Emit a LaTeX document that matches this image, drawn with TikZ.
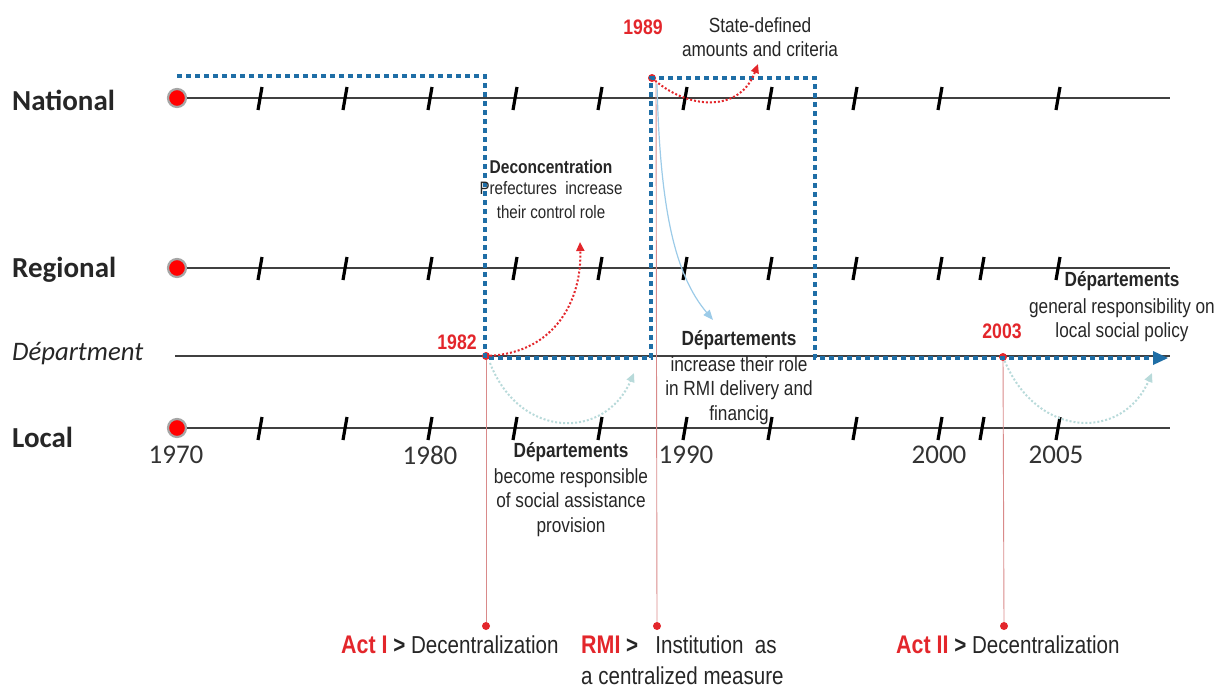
\documentclass[tikz,border=0pt]{standalone}
\usepackage{fontspec}
\setmainfont{Carlito}
\newfontfamily\narrow[FakeStretch=0.84]{Liberation Sans}
\usetikzlibrary{arrows.meta}
\definecolor{dblue}{HTML}{1F6EA6}
\definecolor{lblue}{HTML}{9CCBE8}
\definecolor{pale}{HTML}{B8DADA}
\definecolor{pinkline}{HTML}{D98A8A}
\definecolor{rred}{HTML}{E3262B}
\definecolor{tgray}{HTML}{404040}
\newcommand\redlead[1]{{\fontsize{25.5}{31}\selectfont\bfseries\textcolor{rred}{#1}}}
\begin{document}
\begin{tikzpicture}[x=1pt,y=-1pt,
  rowlab/.style={anchor=west,font=\fontsize{29}{32}\selectfont\bfseries,text=black!85,inner sep=0},
  bigdot/.style={circle,fill=red,draw=gray!70,line width=2.2pt,minimum size=18pt,inner sep=0},
  rdot/.style={circle,fill=rred,inner sep=0,minimum size=8pt},
  tline/.style={draw=tgray,line width=1.3pt},
  tick/.style={line width=3.2pt,black},
  bluedash/.style={draw=dblue,line width=4.5pt,dash pattern=on 5pt off 4pt},
  pinkv/.style={draw=pinkline,line width=0.9pt},
  reddot/.style={draw=rred,line width=2pt,dotted,-{Triangle[length=9pt,width=8pt]}},
  paledot/.style={draw=pale,line width=2pt,dotted,-{Triangle[length=9pt,width=8pt]}},
  year/.style={font=\fontsize{27}{30}\selectfont,text=black!80},
  ann/.style={font=\narrow\fontsize{20.5}{24.5}\selectfont,text=black!85,align=center},
  annb/.style={font=\narrow\fontsize{20.5}{24}\selectfont\bfseries,text=black!85},
  redyr/.style={font=\narrow\fontsize{21}{24}\selectfont\bfseries,text=rred},
  bot/.style={font=\narrow\fontsize{24.5}{31}\selectfont,text=black!85,anchor=base west,inner sep=0}
]
\useasboundingbox (0,0) rectangle (1223,691);

% row labels
\node[rowlab] (nat) at (12,100) {National};
\node[rowlab] (reg) at (12,270) {Regional};
\node[rowlab,font=\fontsize{26.7}{30}\selectfont\itshape] (dep) at (12,354) {Départment};
\node[rowlab] (loc) at (12,437) {Local};

% timeline lines
\coordinate (natE) at (1170,98);
\coordinate (regE) at (1170,268);
\coordinate (depS) at (175,356);
\coordinate (depE) at (1170,356);
\coordinate (locE) at (1170,428);
\node[bigdot] (natD) at (177,98) {};
\node[bigdot] (regD) at (177,268) {};
\node[bigdot] (locD) at (177,428) {};
\draw[tline] (natD) -- (natE);
\draw[tline] (regD) -- (regE);
\draw[tline] (depS) -- (depE);
\draw[tline] (locD) -- (locE);

% ticks
\foreach \x in {260,345,430,515,600,685,770,855,940,1058}
  \draw[tick] (\x-2,110) -- (\x+2,87);
\foreach \x in {260,345,430,515,600,685,770,855,940,982,1058}{
  \draw[tick] (\x-2,280) -- (\x+2,257);
  \draw[tick] (\x-2,440) -- (\x+2,417);
}

% years
\node[year] (y70) at (176,455) {1970};
\node[year] (y80) at (430,455) {1980};
\node[year] (y90) at (686,455) {1990};
\node[year] (y00) at (939,455) {2000};
\node[year] (y05) at (1056,455) {2005};

% pink vertical lines and event dots
\node[rdot] (e82) at (486,356) {};
\node[rdot] (e89) at (652,78) {};
\node[rdot] (e03) at (1003,357) {};
\node[rdot] (b82) at (486,626) {};
\node[rdot] (b89) at (657,626) {};
\node[rdot] (b03) at (1004,626) {};
\draw[pinkv] (e82) -- (b82);
\draw[pinkv] (656,82) -- (b89);
\draw[pinkv] (e03) -- (b03);

% blue dotted path
\coordinate (p0) at (177,76);
\coordinate (p1) at (485,76);
\coordinate (p2) at (485,358);
\coordinate (p3) at (651,358);
\coordinate (p4) at (651,78);
\coordinate (p5) at (815,78);
\coordinate (p6) at (815,358);
\coordinate (p7) at (1155,358);
\coordinate (pend) at (1168,358);
\draw[bluedash] (p0) -- (p1) -- (p2) -- (p3) -- (p4) -- (p5) -- (p6) -- (p7);
\fill[dblue] (pend) -- ++(-15,-7) -- ++(0,14) -- cycle;

% curved arrows
\coordinate (r82) at (580,242);
\draw[reddot] (e82) .. controls (555,352) and (582,300) .. (r82);
\coordinate (r89) at (758,64);
\draw[reddot] (e89) .. controls (690,110) and (740,112) .. (r89);
\coordinate (q82) at (634,373);
\draw[paledot] (490,363) .. controls (520,440) and (605,440) .. (q82);
\coordinate (q03) at (1152,373);
\draw[paledot] (e03) .. controls (1038,440) and (1123,440) .. (q03);
\coordinate (lb) at (713,320);
\draw[draw=lblue,line width=1.2pt,-{Triangle[length=10pt,width=8pt]}] (657,84) .. controls (660,210) and (675,275) .. (lb);

% annotations
\node[redyr] (t89) at (643,27) {1989};
\node[ann] (tstate) at (760,37) {State-defined\\amounts and criteria};
\node[annb,font=\narrow\fontsize{18.5}{22}\selectfont\bfseries] (tdec) at (551,167) {Deconcentration};
\node[ann,anchor=north,font=\narrow\fontsize{18}{23.5}\selectfont] (tpref) at (551,178) {Prefectures\ \ increase\\their\ control\ role};
\node[redyr] (t82) at (457,342) {1982};
\node[annb] (tdep1) at (739,340) {Départements};
\node[ann,anchor=north] (tdep1b) at (739,353) {increase their role\\in RMI delivery and\\financig};
\node[annb] (tdep2) at (571,452) {Départements};
\node[ann,anchor=north] (tdep2b) at (571,465) {become responsible\\of social assistance\\provision};
\node[annb] (tdep3) at (1122,281) {Départements};
\node[ann,anchor=north] (tdep3b) at (1122,295) {general responsibility on\\local social policy};
\node[redyr] (t03) at (1002,331) {2003};

% bottom
\node[bot] (act1) at (341,653) {\redlead{Act I} \textbf{>} Decentralization};
\node[bot] (rmi) at (581,653) {\redlead{RMI} \textbf{>}\ \ \ Institution\ \ as};
\node[bot] (rmi2) at (581,684) {a centralized measure};
\node[bot] (act2) at (896,653) {\redlead{Act II} \textbf{>} Decentralization};
\end{tikzpicture}
\end{document}
